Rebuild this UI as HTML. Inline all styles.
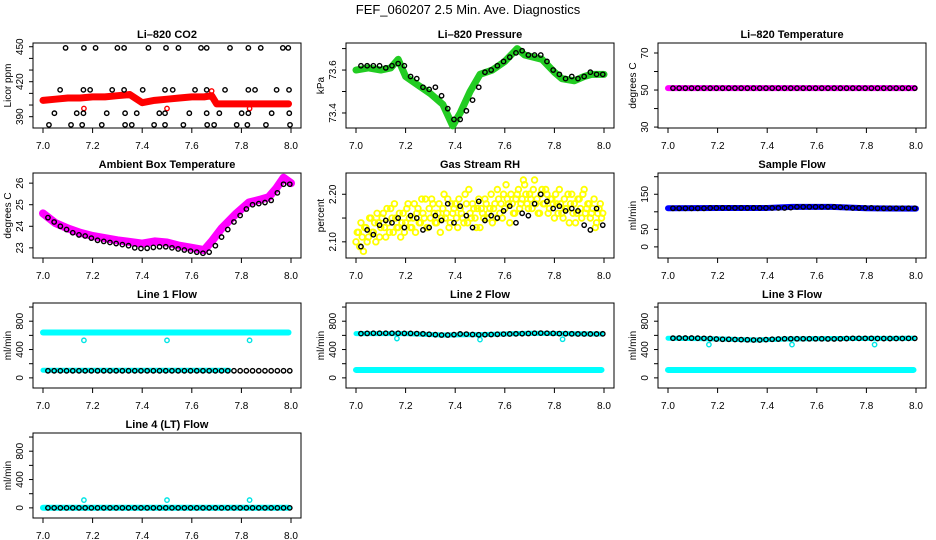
<!DOCTYPE html>
<html>
<head>
<meta charset="utf-8">
<style>
  html, body { margin: 0; padding: 0; background: #fff; }
  svg { display: block; font-family: "Liberation Sans", "DejaVu Sans", sans-serif; }
</style>
</head>
<body>
<svg id="chart" width="936" height="540" viewBox="0 0 936 540" xmlns="http://www.w3.org/2000/svg">
  <rect x="0" y="0" width="936" height="540" fill="#fff"></rect>
  <text x="468" y="14" text-anchor="middle" font-size="13" fill="#000">FEF_060207  2.5 Min. Ave. Diagnostics</text>
</svg>
<script>
// ---------- data ----------
const xTicks = [7.0, 7.2, 7.4, 7.6, 7.8, 8.0];
const xTickLabels = ["7.0", "7.2", "7.4", "7.6", "7.8", "8.0"];

// Li-820 CO2
const co2RedX = [7.0,7.05,7.1,7.15,7.2,7.25,7.3,7.35,7.4,7.45,7.5,7.55,7.6,7.65,7.68,7.7,7.75,7.8,7.85,7.9,7.95,7.99];
const co2RedY = [404,405,406,406,407,407,408,409,402,404,405,406,407,407,408,401,401,401,401,401,401,401];
const co2RedOutX = [7.165, 7.5, 7.833, 7.68];
const co2RedOutY = [397, 397, 397, 412];
const co2BlackX = [7.091,7.165,7.212,7.300,7.327,7.425,7.496,7.546,7.637,7.660,7.754,7.828,7.878,7.967,7.989,
  7.069,7.163,7.190,7.279,7.327,7.402,7.492,7.523,7.613,7.660,7.734,7.828,7.855,7.942,7.992,
  7.046,7.136,7.163,7.257,7.331,7.378,7.469,7.492,7.590,7.660,7.711,7.801,7.828,7.922,7.993,
  7.024,7.113,7.158,7.237,7.331,7.358,7.448,7.492,7.566,7.662,7.690,7.781,7.824,7.899,7.996];
const co2BlackY = [449,449,449,449,449,449,449,449,449,449,449,449,449,449,449,
  413,413,413,413,413,413,413,413,413,413,413,413,413,413,413,
  393,393,393,393,393,393,393,393,393,393,393,393,393,393,393,
  383,383,383,383,383,383,383,383,383,383,383,383,383,383,383];

// Li-820 Pressure
const presGreenX = [7.0,7.05,7.1,7.14,7.17,7.2,7.25,7.3,7.35,7.39,7.42,7.46,7.5,7.55,7.6,7.65,7.68,7.75,7.8,7.83,7.88,7.92,7.95,8.0];
const presGreenY = [73.60,73.61,73.60,73.61,73.65,73.57,73.53,73.49,73.44,73.34,73.40,73.50,73.58,73.60,73.64,73.70,73.67,73.65,73.59,73.56,73.55,73.57,73.58,73.58];
const presBlack = [73.62,73.62,73.62,73.62,73.61,73.62,73.63,73.62,73.57,73.56,73.52,73.51,73.52,73.48,73.42,73.37,73.37,73.41,73.46,73.52,73.59,73.60,73.62,73.64,73.66,73.68,73.69,73.67,73.67,73.67,73.64,73.60,73.58,73.56,73.57,73.56,73.57,73.59,73.58,73.58];

// Li-820 Temperature
const tempMagX = [7.0, 7.995];
const tempMagY = [51, 51];
const tempBlack = [51,51,51,51,51,51,51,51,51,51,51,51,51,51,51,51,51,51,51,51,51,51,51,51,51,51,51,51,51,51,51,51,51,51,51,51,51,51,51,51];

// Ambient Box Temperature
const ambMagX = [7.0,7.05,7.1,7.15,7.2,7.3,7.4,7.45,7.5,7.55,7.6,7.65,7.68,7.72,7.78,7.83,7.88,7.91,7.94,7.97,8.0];
const ambMagY = [24.6,24.15,23.9,23.7,23.55,23.35,23.2,23.3,23.25,23.1,23.0,22.9,23.3,23.9,24.6,25.1,25.25,25.35,25.75,26.25,26.0];
const ambBlack = [24.4,24.2,24.0,23.85,23.7,23.6,23.55,23.45,23.35,23.3,23.25,23.2,23.15,23.1,23.0,22.97,22.98,23.02,23.05,23.05,23.0,22.95,22.9,22.85,22.8,22.75,22.8,23.1,23.5,23.85,24.2,24.5,24.8,25.0,25.05,25.1,25.2,25.55,25.95,25.95];

// Gas Stream RH
const rhYellowA = [2.10,2.12,2.14,2.08,2.13,2.11,2.15,2.12,2.10,2.14,2.13,2.16,2.11,2.14,2.17,2.12,2.15,2.13,2.11,2.16,
  2.14,2.18,2.13,2.15,2.12,2.17,2.14,2.16,2.19,2.13,2.15,2.18,2.14,2.16,2.12,2.17,2.15,2.19,2.14,2.16,
  2.18,2.13,2.17,2.15,2.20,2.14,2.16,2.18,2.15,2.17,2.13,2.16,2.19,2.15,2.17,2.14,2.18,2.21,2.16,2.15,
  2.17,2.19,2.14,2.18,2.16,2.20,2.17,2.19,2.22,2.18,2.20,2.17,2.23,2.19,2.16,2.21,2.18,2.20,2.17,2.19,
  2.15,2.18,2.21,2.16,2.19,2.17,2.14,2.20,2.18,2.16,2.19,2.15,2.21,2.17,2.18,2.16,2.19,2.14,2.17,2.15];
const rhYellowB = [2.12,2.09,2.11,2.13,2.10,2.15,2.12,2.14,2.16,2.11,2.15,2.13,2.17,2.12,2.15,2.18,2.13,2.16,2.14,2.12,
  2.17,2.15,2.13,2.18,2.16,2.14,2.19,2.15,2.13,2.17,2.19,2.16,2.14,2.18,2.15,2.20,2.16,2.13,2.18,2.17,
  2.15,2.19,2.16,2.14,2.18,2.21,2.15,2.17,2.13,2.19,2.17,2.15,2.18,2.16,2.20,2.17,2.15,2.19,2.18,2.20,
  2.22,2.18,2.20,2.16,2.19,2.21,2.18,2.23,2.20,2.17,2.19,2.21,2.18,2.16,2.20,2.18,2.21,2.16,2.19,2.18,
  2.20,2.16,2.18,2.15,2.17,2.20,2.18,2.16,2.14,2.19,2.17,2.20,2.16,2.18,2.15,2.17,2.13,2.16,2.18,2.16];
const rhBlack = [2.09,2.125,2.115,2.135,2.145,2.14,2.15,2.13,2.155,2.15,2.125,2.13,2.155,2.145,2.18,2.14,2.175,2.155,2.13,2.185,2.145,2.155,2.15,2.165,2.175,2.14,2.16,2.155,2.18,2.2,2.185,2.17,2.175,2.165,2.17,2.165,2.135,2.125,2.17,2.135];

// Sample Flow
const sfBlueX = [7.0,7.2,7.4,7.5,7.66,7.8,8.0];
const sfBlueY = [110,111,111,114,114,110,109];
const sfBlack = [110,110,110,110,110,110,111,111,111,111,111,111,111,111,111,111,111,111,111,112,114,114,114,114,114,114,114,113,112,111,111,111,111,110,110,110,110,110,110,110];

// Line flows
const l1CyanX = [7.0, 7.99];
const l1CyanY = [640, 640];
const l1CyanLowX = [7.0, 7.75];
const l1CyanLowY = [108, 108];
const l1Black = [100,100,100,100,100,100,100,100,100,100,100,100,100,100,100,100,100,100,100,100,100,100,100,100,100,100,100,100,100,100,100,100,100,100,100,100,100,100,100,100];
const outX = [7.165, 7.5, 7.833];
const l1Out = [530, 530, 530];

const l2CyanX = [7.0, 7.99];
const l2CyanY = [112, 112];
const l2CyanHiX = [7.0, 7.2, 7.35, 7.5, 7.7, 7.99];
const l2CyanHiY = [625, 625, 605, 610, 630, 620];
const l2Black = [625,628,630,630,630,630,630,628,628,625,622,615,610,605,605,610,620,618,612,608,610,612,615,618,620,622,624,626,630,632,630,628,625,624,622,620,620,620,620,622];
const l2Out = [555, 540, 545];

const l3CyanX = [7.0, 7.99];
const l3CyanY = [112, 112];
const l3CyanHiX = [7.0, 7.2, 7.35, 7.5, 7.7, 7.99];
const l3CyanHiY = [560, 550, 535, 550, 555, 560];
const l3Black = [560,562,562,562,560,558,555,548,545,545,542,540,538,535,535,540,545,548,552,552,552,552,552,552,552,550,550,552,555,558,558,558,558,556,555,555,556,556,558,558];
const l3Out = [470, 470, 470];

const l4CyanX = [7.0, 7.99];
const l4CyanY = [2, 2];
const l4Black = [0,0,0,0,0,0,0,0,0,0,0,0,0,0,0,0,0,0,0,0,0,0,0,0,0,0,0,0,0,0,0,0,0,0,0,0,0,0,0,0];
const l4Out = [110, 110, 110];

// ---------- drawing ----------
const NS = "http://www.w3.org/2000/svg";
const svg = document.getElementById("chart");
const colX0 = [43, 356, 668];
const rowTop = [43, 173, 303, 433];
const BOX_H = 85, SPAN = 248;

function mk(tag, parent) {
  const e = document.createElementNS(NS, tag);
  parent.appendChild(e);
  return e;
}

function makePanel(col, row, name, title, yTitle, ylim, yTicks, yLabels) {
  const g = mk("g", svg);
  
  
  const x0 = colX0[col];
  const top = rowTop[row];
  const bottom = top + BOX_H;
  const left = x0 - 10, right = x0 + SPAN + 10;
  const sx = v => x0 + (v - 7) * SPAN;
  const sy = v => bottom - (v - ylim[0]) / (ylim[1] - ylim[0]) * BOX_H;

  const box = mk("rect", g);
  box.setAttribute("x", left); box.setAttribute("y", top);
  box.setAttribute("width", right - left); box.setAttribute("height", BOX_H);
  box.setAttribute("fill", "none"); box.setAttribute("stroke", "#000"); box.setAttribute("stroke-width", "1");
  
  

  const t = mk("text", g);
  t.setAttribute("x", (left + right) / 2); t.setAttribute("y", top - 5);
  t.setAttribute("text-anchor", "middle"); t.setAttribute("font-size", "11"); t.setAttribute("font-weight", "bold");
  t.textContent = title;
  
  

  const xa = mk("g", g);
  
  
  xTicks.forEach((v, i) => {
    const tk = mk("line", xa);
    tk.setAttribute("x1", sx(v)); tk.setAttribute("x2", sx(v));
    tk.setAttribute("y1", bottom); tk.setAttribute("y2", bottom + 5);
    tk.setAttribute("stroke", "#000");
    
    
    const lb = mk("text", xa);
    lb.setAttribute("x", sx(v)); lb.setAttribute("y", bottom + 21);
    lb.setAttribute("text-anchor", "middle"); lb.setAttribute("font-size", "10");
    lb.textContent = xTickLabels[i];
    
    
  });

  const ya = mk("g", g);
  
  
  yTicks.forEach((v, i) => {
    const tk = mk("line", ya);
    tk.setAttribute("x1", left); tk.setAttribute("x2", left - 4);
    tk.setAttribute("y1", sy(v)); tk.setAttribute("y2", sy(v));
    tk.setAttribute("stroke", "#000");
    
    
    if (yLabels[i]) {
      const lb = mk("text", ya);
      const lx = left - 10, ly = sy(v);
      lb.setAttribute("x", lx); lb.setAttribute("y", ly);
      lb.setAttribute("text-anchor", "middle"); lb.setAttribute("font-size", "10");
      lb.setAttribute("transform", "rotate(-90 " + lx + " " + ly + ")");
      lb.textContent = yLabels[i];
      
      
    }
  });
  const yt = mk("text", g);
  const tx = left - 22, ty = (top + bottom) / 2;
  yt.setAttribute("x", tx); yt.setAttribute("y", ty);
  yt.setAttribute("text-anchor", "middle"); yt.setAttribute("font-size", "10");
  yt.setAttribute("transform", "rotate(-90 " + tx + " " + ty + ")");
  yt.textContent = yTitle;
  
  

  return { g, sx, sy };
}

function band(p, xs, ys, color, width, name) {
  const pl = mk("polyline", p.g);
  pl.setAttribute("points", xs.map((x, i) => p.sx(x) + "," + p.sy(ys[i])).join(" "));
  pl.setAttribute("fill", "none"); pl.setAttribute("stroke", color);
  pl.setAttribute("stroke-width", width); pl.setAttribute("stroke-linecap", "round"); pl.setAttribute("stroke-linejoin", "round");
  
  
}

function points(p, xs, ys, color, name, r, sw) {
  const gg = mk("g", p.g);
  
  
  ys.forEach((v, i) => {
    const c = mk("circle", gg);
    c.setAttribute("cx", p.sx(xs[i])); c.setAttribute("cy", p.sy(v));
    c.setAttribute("r", r || 2.2); c.setAttribute("fill", "none");
    c.setAttribute("stroke", color); c.setAttribute("stroke-width", sw || "1.4");
    
    
  });
}

function evenX(n, a, b) { const out = []; for (let i = 0; i < n; i++) out.push(a + i * (b - a) / (n - 1)); return out; }

let p = makePanel(0, 0, "li820-co2", "Li\u2013820 CO2", "Licor ppm", [380.3, 453.2], [390,400,410,420,430,440,450], ["390","","","420","","","450"]);
band(p, co2RedX, co2RedY, "#ff0000", 7, "co2-red-series");
points(p, co2RedOutX, co2RedOutY, "#ff0000", "co2-red-outliers");
points(p, co2BlackX, co2BlackY, "#000", "co2-black-series");

p = makePanel(1, 0, "li820-pressure", "Li\u2013820 Pressure", "kPa", [73.33, 73.726], [73.4,73.5,73.6,73.7], ["73.4","","73.6",""]);
band(p, presGreenX, presGreenY, "#22cc22", 7, "pressure-green-series");
points(p, evenX(presBlack.length, 7.02, 7.995), presBlack, "#000", "pressure-black-series");

p = makePanel(2, 0, "li820-temperature", "Li\u2013820 Temperature", "degrees C", [29.5, 75.4], [30,40,50,60,70], ["30","","50","","70"]);
band(p, tempMagX, tempMagY, "#ff00ff", 6, "temperature-magenta-series");
points(p, evenX(tempBlack.length, 7.02, 7.995), tempBlack, "#000", "temperature-black-series");

p = makePanel(0, 1, "ambient-box-temperature", "Ambient Box Temperature", "degrees C", [22.53, 26.47], [23,24,25,26], ["23","24","25","26"]);
band(p, ambMagX, ambMagY, "#ff00ff", 8, "ambient-magenta-series");
points(p, evenX(ambBlack.length, 7.02, 7.995), ambBlack, "#000", "ambient-black-series");

p = makePanel(1, 1, "gas-stream-rh", "Gas Stream RH", "percent", [2.066, 2.2447], [2.10,2.15,2.20], ["2.10","","2.20"]);
points(p, evenX(rhYellowA.length, 7.0, 7.99), rhYellowA, "#ffff00", "rh-yellow-series-a", 2.8, "1.8");
points(p, evenX(rhYellowB.length, 7.005, 7.995), rhYellowB, "#ffff00", "rh-yellow-series-b", 2.8, "1.8");
points(p, evenX(rhBlack.length, 7.02, 7.995), rhBlack, "#000", "rh-black-series");

p = makePanel(2, 1, "sample-flow", "Sample Flow", "ml/min", [-31.7, 210.6], [0,50,100,150,200], ["0","50","","150",""]);
band(p, sfBlueX, sfBlueY, "#0000ff", 6, "sample-flow-blue-series");
points(p, evenX(sfBlack.length, 7.02, 7.995), sfBlack, "#000", "sample-flow-black-series");

const flowLim = [-143, 1057], flowTicks = [0,200,400,600,800,1000], flowLabels = ["0","","400","","800",""];

p = makePanel(0, 2, "line1-flow", "Line 1 Flow", "ml/min", flowLim, flowTicks, flowLabels);
band(p, l1CyanX, l1CyanY, "#00ffff", 6, "line1-cyan-series");
band(p, l1CyanLowX, l1CyanLowY, "#00ffff", 5, "line1-cyan-low-series");
points(p, outX, l1Out, "#00e5e5", "line1-cyan-outliers");
points(p, evenX(l1Black.length, 7.02, 7.995), l1Black, "#000", "line1-black-series");

p = makePanel(1, 2, "line2-flow", "Line 2 Flow", "ml/min", flowLim, flowTicks, flowLabels);
band(p, l2CyanX, l2CyanY, "#00ffff", 6, "line2-cyan-series");
band(p, l2CyanHiX, l2CyanHiY, "#00ffff", 5, "line2-cyan-high-series");
points(p, outX, l2Out, "#00e5e5", "line2-cyan-outliers");
points(p, evenX(l2Black.length, 7.02, 7.995), l2Black, "#000", "line2-black-series");

p = makePanel(2, 2, "line3-flow", "Line 3 Flow", "ml/min", flowLim, flowTicks, flowLabels);
band(p, l3CyanX, l3CyanY, "#00ffff", 6, "line3-cyan-series");
band(p, l3CyanHiX, l3CyanHiY, "#00ffff", 5, "line3-cyan-high-series");
points(p, outX, l3Out, "#00e5e5", "line3-cyan-outliers");
points(p, evenX(l3Black.length, 7.02, 7.995), l3Black, "#000", "line3-black-series");

p = makePanel(0, 3, "line4-lt-flow", "Line 4 (LT) Flow", "ml/min", flowLim, flowTicks, flowLabels);
band(p, l4CyanX, l4CyanY, "#00ffff", 6, "line4-cyan-series");
points(p, outX, l4Out, "#00e5e5", "line4-cyan-outliers");
points(p, evenX(l4Black.length, 7.02, 7.995), l4Black, "#000", "line4-black-series");
</script>
</body>
</html>
